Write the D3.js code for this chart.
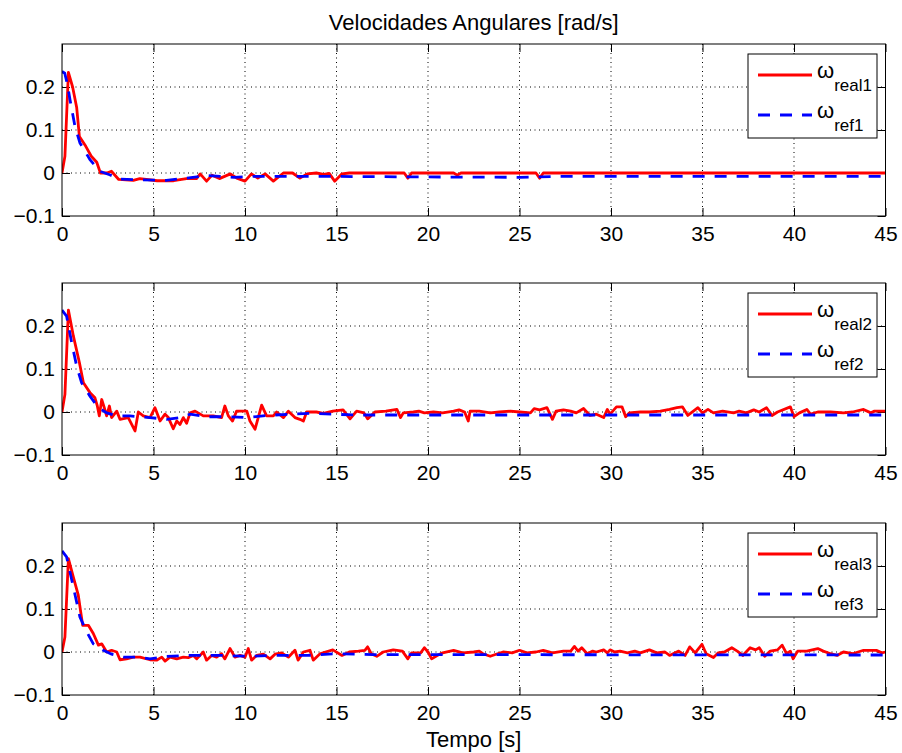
<!DOCTYPE html>
<html>
<head>
<meta charset="utf-8">
<script src="https://cdn.jsdelivr.net/npm/d3@7"></script>
<style>
  body { margin: 0; background: #fff; }
  text { font-family: "Liberation Sans", Arial, Helvetica, sans-serif; fill: #000; }
</style>
</head>
<body>
<div id="chart"></div>
<script>
// data: [time (s), angular velocity (rad/s)]
const xTicks = [0, 5, 10, 15, 20, 25, 30, 35, 40, 45];
const yTicks = [-0.1, 0, 0.1, 0.2];
const legendNames = [["real1", "ref1"], ["real2", "ref2"], ["real3", "ref3"]];

const real1 = [[0,0],[0.16,0.039],[0.35,0.234],[0.58,0.2],[0.8,0.153],[0.95,0.085],[1.3,0.062],[1.6,0.039],[1.9,0.025],[2.1,0],[2.45,0],[2.7,0.004],[3.1,-0.015],[3.9,-0.017],[4.25,-0.013],[5.2,-0.018],[6.1,-0.018],[6.8,-0.013],[7.35,-0.013],[7.55,-0.002],[7.9,-0.019],[8.2,-0.005],[8.6,-0.013],[9.2,-0.002],[9.55,-0.012],[10,-0.019],[10.35,-0.002],[10.7,-0.012],[11.1,-0.002],[11.55,-0.019],[12.1,0],[12.6,0],[13,-0.012],[13.4,-0.002],[13.9,0],[14.3,-0.003],[14.6,-0.001],[14.9,-0.019],[15.3,-0.002],[15.7,0],[18.7,0],[18.9,-0.012],[19.1,0],[21.4,0],[21.6,-0.005],[21.8,0],[25.9,0],[26.1,-0.012],[26.3,0],[45,0]];

const ref1 = [[0,0.236],[0.15,0.232],[0.3,0.205],[0.44,0.17],[0.71,0.108],[0.98,0.07],[1.53,0.031],[2.07,0.004],[2.6,-0.004],[3.17,-0.014],[4.26,-0.016],[5.7,-0.017],[6.8,-0.012],[7.9,-0.006],[9.4,-0.01],[10.45,-0.008],[12.3,-0.008],[15,-0.008],[19,-0.009],[25,-0.01],[27,-0.008],[45,-0.008]];

const real2 = [[0,0],[0.16,0.041],[0.35,0.237],[0.62,0.177],[0.95,0.115],[1.17,0.068],[1.53,0.045],[1.8,0.033],[1.93,0.014],[2.04,-0.009],[2.17,0.029],[2.31,0.01],[2.44,-0.009],[2.59,0.014],[2.71,-0.013],[2.99,0.002],[3.17,-0.017],[3.62,-0.013],[3.99,-0.044],[4.17,0],[4.44,-0.009],[4.81,-0.013],[5.08,0.01],[5.36,-0.021],[5.63,-0.005],[5.81,-0.013],[6.08,-0.039],[6.27,-0.021],[6.45,-0.029],[6.63,-0.013],[6.81,-0.026],[7.0,-0.002],[7.27,0.002],[7.72,-0.009],[8.27,-0.009],[8.72,-0.013],[8.9,0.014],[9.09,-0.009],[9.32,-0.021],[9.54,0.002],[10.1,0.002],[10.27,-0.021],[10.55,-0.04],[10.91,0.016],[11.18,-0.009],[11.55,-0.009],[11.73,0],[12.1,-0.013],[12.37,0.002],[12.73,-0.013],[13.0,-0.017],[13.19,-0.021],[13.37,0],[13.9,0],[14.28,-0.003],[14.8,0.002],[15.36,0.005],[15.74,-0.016],[16.1,0.002],[16.5,-0.002],[16.7,-0.016],[17.1,0],[17.7,0.002],[18.3,0.006],[18.5,-0.013],[18.65,-0.002],[19.2,0],[19.5,0.002],[19.8,-0.002],[20.3,0],[20.8,-0.002],[21.4,0.002],[21.7,0.005],[22.0,0],[22.2,-0.021],[22.3,0.002],[22.8,0.002],[23.4,-0.002],[23.9,0],[24.5,0.002],[25.0,0],[25.6,-0.002],[25.8,0.008],[26.1,0.005],[26.5,0.01],[26.8,-0.017],[27.0,0.002],[27.4,0.005],[27.8,0.002],[28.1,-0.002],[28.5,0.008],[28.85,-0.008],[29.2,-0.005],[29.6,-0.013],[29.8,0.006],[29.95,-0.005],[30.3,0.012],[30.6,0.012],[30.8,-0.011],[31.0,-0.002],[31.6,0],[32.1,0],[32.7,0.002],[33.2,0.006],[33.6,0.01],[33.9,0.012],[34.2,-0.008],[34.75,0.01],[35.0,-0.002],[35.3,0.006],[35.6,-0.002],[36.1,0.002],[36.7,-0.002],[37.0,0.002],[37.4,-0.002],[37.8,0.005],[38.1,0],[38.5,0.01],[38.8,-0.008],[39.1,0],[39.8,0.012],[40.0,-0.011],[40.3,-0.002],[40.7,0.006],[40.9,-0.005],[41.3,0],[42.0,0],[42.7,-0.002],[43.2,0],[43.8,0.006],[44.2,-0.002],[44.4,0.002],[45,0.002]];

const ref2 = [[0,0.237],[0.25,0.223],[0.53,0.161],[0.8,0.107],[1.07,0.068],[1.53,0.037],[1.99,0.01],[2.44,-0.002],[2.99,-0.009],[3.7,-0.009],[4.81,-0.013],[5.72,-0.017],[6.45,-0.013],[7.0,-0.005],[7.9,-0.011],[9.0,-0.011],[10.1,-0.013],[11.2,-0.008],[12.6,-0.005],[13.7,-0.003],[14.8,-0.005],[16,-0.007],[45,-0.007]];

const real3 = [[0,0],[0.16,0.035],[0.35,0.217],[0.62,0.174],[0.89,0.132],[1.13,0.062],[1.44,0.062],[1.71,0.043],[1.99,0.016],[2.17,0.019],[2.44,0],[2.71,0.004],[2.99,0],[3.17,-0.018],[3.53,-0.016],[3.9,-0.012],[4.26,-0.012],[4.81,-0.018],[5.17,-0.019],[5.45,-0.012],[5.63,-0.021],[5.9,-0.012],[6.27,-0.016],[6.63,-0.012],[6.9,-0.013],[7.18,-0.008],[7.36,-0.016],[7.72,0],[7.9,-0.019],[8.18,-0.008],[8.45,-0.012],[8.72,-0.004],[8.9,-0.016],[9.18,0.008],[9.45,-0.012],[9.73,-0.008],[10.0,-0.012],[10.18,0.008],[10.36,-0.019],[10.64,-0.008],[11.0,-0.005],[11.37,-0.016],[11.64,-0.005],[12.0,-0.002],[12.37,-0.012],[12.73,0.004],[12.9,-0.019],[13.19,0],[13.55,0.004],[13.73,-0.019],[14.1,-0.004],[14.4,0],[14.8,0.005],[15.3,-0.008],[15.7,0],[16.2,0.002],[16.55,0.004],[16.7,0.012],[16.9,-0.004],[17.2,-0.01],[17.55,0],[18.1,0.005],[18.6,0.002],[18.9,-0.016],[19.1,-0.002],[19.6,-0.002],[19.8,0.01],[20.0,0],[20.2,-0.016],[20.5,-0.008],[20.8,-0.002],[21.4,0.004],[21.9,-0.002],[22.5,0],[22.8,0.002],[23.0,-0.004],[23.4,-0.01],[23.8,-0.004],[24.1,0],[24.6,-0.002],[25.0,0.004],[25.4,-0.002],[25.9,0],[26.3,0.004],[26.8,-0.002],[27.4,0.002],[27.8,0.002],[28.0,0.013],[28.2,0.002],[28.4,0.01],[28.7,-0.004],[29.0,0.002],[29.2,0],[29.6,0.005],[29.8,-0.002],[29.95,0.005],[30.2,0],[30.5,0.002],[30.9,-0.002],[31.3,0.002],[31.6,-0.002],[32.1,0.005],[32.5,-0.002],[32.95,0],[33.2,-0.008],[33.7,0.002],[34.05,-0.008],[34.3,0.012],[34.6,-0.002],[34.97,0.018],[35.2,-0.004],[35.6,-0.013],[35.85,-0.002],[36.2,0],[36.6,0.01],[36.9,0.002],[37.2,-0.008],[37.6,0.01],[37.9,0.005],[38.1,0.01],[38.4,-0.01],[38.7,0.002],[39.1,0.005],[39.35,0.016],[39.6,-0.004],[39.8,0.002],[39.95,-0.016],[40.2,0.002],[40.7,0.002],[41.3,0.008],[41.6,0.002],[42.0,-0.004],[42.35,-0.008],[42.7,0],[43.2,-0.004],[43.8,0.004],[44.5,0.004],[44.8,-0.002],[45,0]];

const ref3 = [[0,0.235],[0.25,0.221],[0.62,0.151],[0.98,0.081],[1.35,0.047],[1.71,0.019],[2.26,0.004],[2.71,-0.005],[3.35,-0.012],[4.26,-0.012],[4.81,-0.016],[5.72,-0.01],[7.0,-0.008],[8.8,-0.008],[10.1,-0.01],[11.5,-0.008],[13.4,-0.008],[15.0,-0.004],[17,-0.006],[45,-0.007]];

const panels = [
    { real: real1, ref: ref1, names: legendNames[0] },
    { real: real2, ref: ref2, names: legendNames[1] },
    { real: real3, ref: ref3, names: legendNames[2] }
];

const width = 902, height = 753;
const left = 62, right = 885.5;
const panelTops = [44, 283, 523];
const panelH = 172;
const tickLen = 8;

const svg = d3.select("#chart").append("svg")
    .attr("width", width)
    .attr("height", height);

const x = d3.scaleLinear().domain([0, 45]).range([left, right]);

svg.append("text")
    .attr("x", (left + right) / 2)
    .attr("y", 30)
    .attr("text-anchor", "middle")
    .style("font-size", "22px")
    .text("Velocidades Angulares [rad/s]");

panels.forEach((p, i) => {
    const top = panelTops[i];
    const y = d3.scaleLinear().domain([-0.1, 0.3]).range([top + panelH, top]);
    const g = svg.append("g");

    g.append("clipPath").attr("id", "clip" + i)
        .append("rect")
        .attr("x", left).attr("y", top)
        .attr("width", right - left).attr("height", panelH);

    // dotted grid
    g.append("g").selectAll("line")
        .data(xTicks.filter(d => d > 0 && d < 45))
        .join("line")
        .attr("x1", d => x(d)).attr("x2", d => x(d))
        .attr("y1", top).attr("y2", top + panelH)
        .attr("stroke", "#000").attr("stroke-width", 1)
        .attr("stroke-dasharray", "1,3.5");
    g.append("g").selectAll("line")
        .data(yTicks.filter(d => d > -0.1))
        .join("line")
        .attr("x1", left).attr("x2", right)
        .attr("y1", d => y(d)).attr("y2", d => y(d))
        .attr("stroke", "#000").attr("stroke-width", 1)
        .attr("stroke-dasharray", "1,3.5");

    // axes with inward ticks on all sides
    const xb = d3.axisBottom(x).tickValues(xTicks).tickSizeInner(-tickLen).tickSizeOuter(0).tickPadding(10);
    const xt = d3.axisTop(x).tickValues(xTicks).tickSizeInner(-tickLen).tickSizeOuter(0).tickFormat("");
    const yl = d3.axisLeft(y).tickValues(yTicks).tickSizeInner(-tickLen).tickSizeOuter(0).tickPadding(7)
        .tickFormat(d => d === 0 ? "0" : d3.format(".1f")(d));
    const yr = d3.axisRight(y).tickValues(yTicks).tickSizeInner(-tickLen).tickSizeOuter(0).tickFormat("");

    [
        g.append("g").attr("transform", `translate(0,${top + panelH})`).call(xb),
        g.append("g").attr("transform", `translate(0,${top})`).call(xt),
        g.append("g").attr("transform", `translate(${left},0)`).call(yl),
        g.append("g").attr("transform", `translate(${right},0)`).call(yr)
    ].forEach(a => {
        a.select(".domain").remove();
        a.selectAll(".tick line").attr("stroke", "#000");
        a.selectAll("text").style("font-size", "21px")
            .style("font-family", '"Liberation Sans", Arial, sans-serif');
    });

    const line = d3.line().x(d => x(d[0])).y(d => y(d[1]));

    const plot = g.append("g").attr("clip-path", `url(#clip${i})`);
    plot.append("path")
        .datum(p.real)
        .attr("d", line)
        .attr("fill", "none")
        .attr("stroke", "#ff0000")
        .attr("stroke-width", 2.8)
        .attr("stroke-linejoin", "round");
    plot.append("path")
        .datum(p.ref)
        .attr("d", line)
        .attr("fill", "none")
        .attr("stroke", "#0000ff")
        .attr("stroke-width", 2.8)
        .attr("stroke-dasharray", "12,10");

    g.append("rect")
        .attr("x", left).attr("y", top)
        .attr("width", right - left).attr("height", panelH)
        .attr("fill", "none").attr("stroke", "#000").attr("stroke-width", 1);

    // legend
    const lg = g.append("g").attr("transform", `translate(748,${top + 10})`);
    lg.append("rect")
        .attr("width", 129).attr("height", 84)
        .attr("fill", "#fff").attr("stroke", "#000").attr("stroke-width", 1);

    const entries = [
        { name: p.names[0], color: "#ff0000", dash: null, yy: 21 },
        { name: p.names[1], color: "#0000ff", dash: "12,10", yy: 61 }
    ];
    entries.forEach(e => {
        lg.append("line")
            .attr("x1", 10).attr("x2", 64)
            .attr("y1", e.yy).attr("y2", e.yy)
            .attr("stroke", e.color).attr("stroke-width", 2.8)
            .attr("stroke-dasharray", e.dash);
        const t = lg.append("text")
            .attr("x", 69).attr("y", e.yy + 3)
            .style("font-size", "22px");
        t.append("tspan").text("ω");
        t.append("tspan")
            .attr("dy", 13)
            .style("font-size", "17px")
            .text(e.name);
    });
});

svg.append("text")
    .attr("x", (left + right) / 2)
    .attr("y", 747)
    .attr("text-anchor", "middle")
    .style("font-size", "22px")
    .text("Tempo [s]");
</script>
</body>
</html>
